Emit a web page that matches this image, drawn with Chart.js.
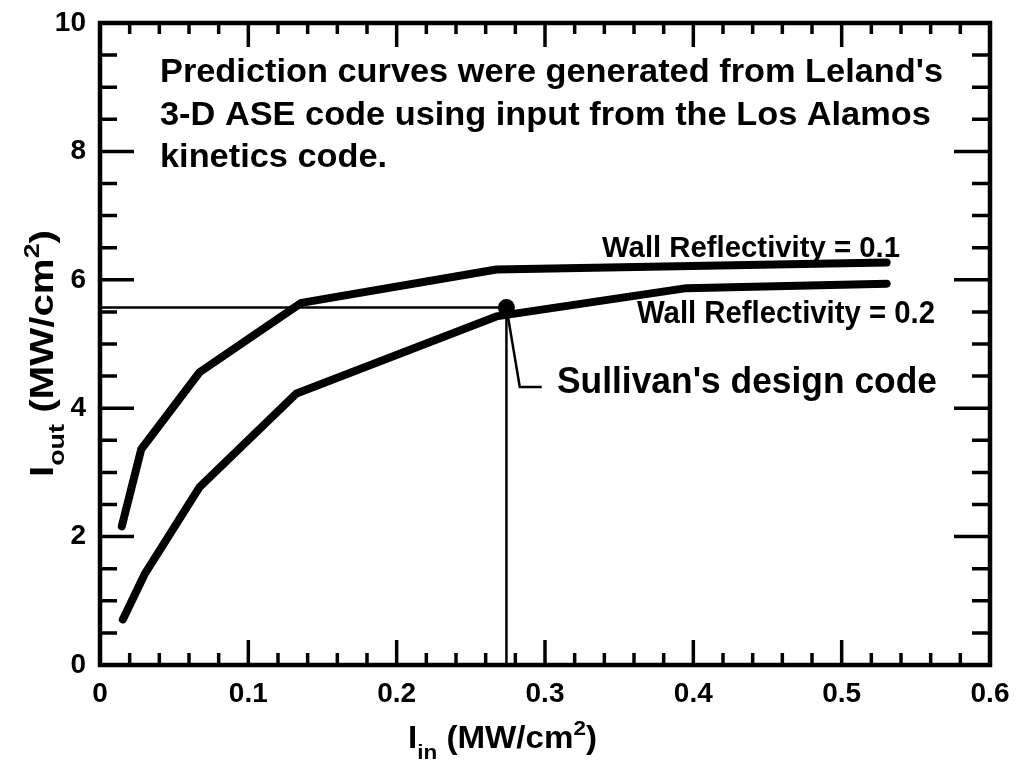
<!DOCTYPE html>
<html>
<head>
<meta charset="utf-8">
<script src="https://cdn.jsdelivr.net/npm/chart.js@4.4.1/dist/chart.umd.min.js"></script>
<style>
html,body{margin:0;padding:0;background:#fff;}
#c{display:block;}
</style>
</head>
<body>
<canvas id="c" width="1016" height="762" style="width:1016px;height:762px"></canvas>
<script>
// ---- data ----
const xTickLabels = ['0','0.1','0.2','0.3','0.4','0.5','0.6'];
const yTickLabels = ['0','2','4','6','8','10'];

const wall01X = [0.0147, 0.0278, 0.0671, 0.1357, 0.2672, 0.5303];
const wall01Y = [2.16, 3.36, 4.56, 5.64, 6.16, 6.27];

const wall02X = [0.0154, 0.0300, 0.0671, 0.1325, 0.2672, 0.3954, 0.5303];
const wall02Y = [0.71, 1.41, 2.77, 4.23, 5.43, 5.87, 5.94];

const designX = [0.274];
const designY = [5.57];

const calloutX = [0.274, 0.283, 0.2978];
const calloutY = [5.57, 4.33, 4.33];

const pts = (xs, ys) => xs.map((x, i) => ({x, y: ys[i]}));

const FONT = 'Liberation Sans, Arial, Helvetica, sans-serif';

function fitText(ctx, text, x, y, font, scaleX) {
  ctx.save();
  ctx.font = font;
  ctx.translate(x, y);
  ctx.scale(scaleX, 1);
  ctx.fillText(text, 0, 0);
  ctx.restore();
}
function scaleFor(ctx, text, font, width) {
  ctx.font = font;
  return width / ctx.measureText(text).width;
}

// rich axis title: I + sub + " (MW/cm" + sup "2" + ")"
function drawTitle(ctx, sub, mainSize, subSize, subDy, supDy, targetWidth) {
  const parts = [
    {t: 'I', s: mainSize, dy: 0},
    {t: sub, s: subSize, dy: subDy},
    {t: ' (MW/cm', s: mainSize, dy: 0},
    {t: '2', s: subSize, dy: supDy},
    {t: ')', s: mainSize, dy: 0}
  ];
  let total = 0;
  parts.forEach(p => { ctx.font = 'bold ' + p.s + 'px ' + FONT; p.w = ctx.measureText(p.t).width; total += p.w; });
  const sx = targetWidth / total;
  ctx.save();
  ctx.scale(sx, 1);
  let cx = 0;
  parts.forEach(p => {
    ctx.font = 'bold ' + p.s + 'px ' + FONT;
    ctx.fillText(p.t, cx, p.dy);
    cx += p.w;
  });
  ctx.restore();
}

const framePlugin = {
  id: 'frame',
  afterDraw(chart) {
    const {ctx, chartArea: a, scales: {x, y}} = chart;
    ctx.save();
    ctx.strokeStyle = '#000';
    ctx.fillStyle = '#000';
    // ticks (inward)
    ctx.lineWidth = 3.5;
    ctx.lineCap = 'butt';
    ctx.beginPath();
    for (let i = 0; i <= 30; i++) {
      const v = i * 0.02;
      const px = x.getPixelForValue(v);
      const major = i % 5 === 0;
      const lb = major ? 25 : 12;
      const lt = major ? 24 : 11;
      ctx.moveTo(px, a.bottom); ctx.lineTo(px, a.bottom - lb);
      ctx.moveTo(px, a.top); ctx.lineTo(px, a.top + lt);
    }
    for (let i = 0; i <= 20; i++) {
      const v = i * 0.5;
      const py = y.getPixelForValue(v);
      const major = i % 4 === 0;
      const l = major ? 34 : 17;
      const r = major ? 36 : 18;
      ctx.moveTo(a.left, py); ctx.lineTo(a.left + l, py);
      ctx.moveTo(a.right, py); ctx.lineTo(a.right - r, py);
    }
    ctx.stroke();
    // frame
    ctx.lineWidth = 4.5;
    ctx.lineJoin = 'miter';
    ctx.strokeRect(a.left, a.top, a.right - a.left, a.bottom - a.top);

    // annotation texts
    ctx.textBaseline = 'alphabetic';
    ctx.textAlign = 'left';
    const mainFont = 'bold 34px ' + FONT;
    const l1 = "Prediction curves were generated from Leland's";
    const s = scaleFor(ctx, l1, mainFont, 783);
    fitText(ctx, l1, 160, 82, mainFont, s);
    fitText(ctx, '3-D ASE code using input from the Los Alamos', 160, 125, mainFont, s);
    fitText(ctx, 'kinetics code.', 160, 167, mainFont, s);

    const wFont1 = 'bold 30px ' + FONT;
    const w1 = 'Wall Reflectivity = 0.1';
    fitText(ctx, w1, 602, 257, wFont1, scaleFor(ctx, w1, wFont1, 298));
    const wFont2 = 'bold 31px ' + FONT;
    const w2 = 'Wall Reflectivity = 0.2';
    fitText(ctx, w2, 637, 323, wFont2, scaleFor(ctx, w2, wFont2, 298));

    const sFont = 'bold 36px ' + FONT;
    const st = "Sullivan's design code";
    fitText(ctx, st, 557, 393, sFont, scaleFor(ctx, st, sFont, 380));

    // axis titles
    ctx.save();
    ctx.translate(408, 748);
    drawTitle(ctx, 'in', 31, 21, 11, -13, 189);
    ctx.restore();

    ctx.save();
    ctx.translate(53, 477);
    ctx.rotate(-Math.PI / 2);
    drawTitle(ctx, 'out', 33, 22, 11, -14, 247);
    ctx.restore();

    ctx.restore();
  }
};

const thick = {borderColor: '#000', backgroundColor: '#000', borderWidth: 8, pointRadius: 0,
  showLine: true, borderCapStyle: 'round', borderJoinStyle: 'round', tension: 0};

new Chart(document.getElementById('c'), {
  type: 'scatter',
  data: {
    datasets: [
      {...thick, label: 'Wall Reflectivity = 0.1', data: pts(wall01X, wall01Y)},
      {...thick, label: 'Wall Reflectivity = 0.2', data: pts(wall02X, wall02Y)},
      {label: 'guide-h', data: [{x: 0, y: designY[0]}, {x: designX[0], y: designY[0]}],
        showLine: true, borderColor: '#000', borderWidth: 2.5, pointRadius: 0},
      {label: 'guide-v', data: [{x: designX[0], y: 0}, {x: designX[0], y: designY[0]}],
        showLine: true, borderColor: '#000', borderWidth: 2.5, pointRadius: 0},
      {label: 'callout', data: pts(calloutX, calloutY),
        showLine: true, borderColor: '#000', borderWidth: 2.5, pointRadius: 0, borderJoinStyle: 'miter'},
      {label: "Sullivan's design code", data: pts(designX, designY),
        showLine: false, pointRadius: 8.5, pointBackgroundColor: '#000', pointBorderColor: '#000', pointBorderWidth: 0}
    ]
  },
  options: {
    responsive: false,
    animation: false,
    devicePixelRatio: 1,
    layout: {padding: {top: 23, right: 26, left: 0, bottom: 0}},
    plugins: {legend: {display: false}, tooltip: {enabled: false}},
    scales: {
      x: {
        type: 'linear', min: 0, max: 0.6,
        grid: {display: false, drawTicks: false},
        border: {display: false},
        ticks: {stepSize: 0.1, color: '#000', padding: 12, maxRotation: 0,
          font: {family: FONT, size: 28, weight: 'bold'},
          callback: (v, i) => xTickLabels[i]},
        afterFit: s => { s.height = 97; s.paddingLeft = 0; s.paddingRight = 0; }
      },
      y: {
        type: 'linear', min: 0, max: 10,
        grid: {display: false, drawTicks: false},
        border: {display: false},
        ticks: {stepSize: 2, color: '#000', padding: 14,
          font: {family: FONT, size: 28, weight: 'bold'},
          callback: (v, i) => yTickLabels[i]},
        afterFit: s => { s.width = 100; s.paddingTop = 0; s.paddingBottom = 0; }
      }
    }
  },
  plugins: [framePlugin]
});
</script>
</body>
</html>
